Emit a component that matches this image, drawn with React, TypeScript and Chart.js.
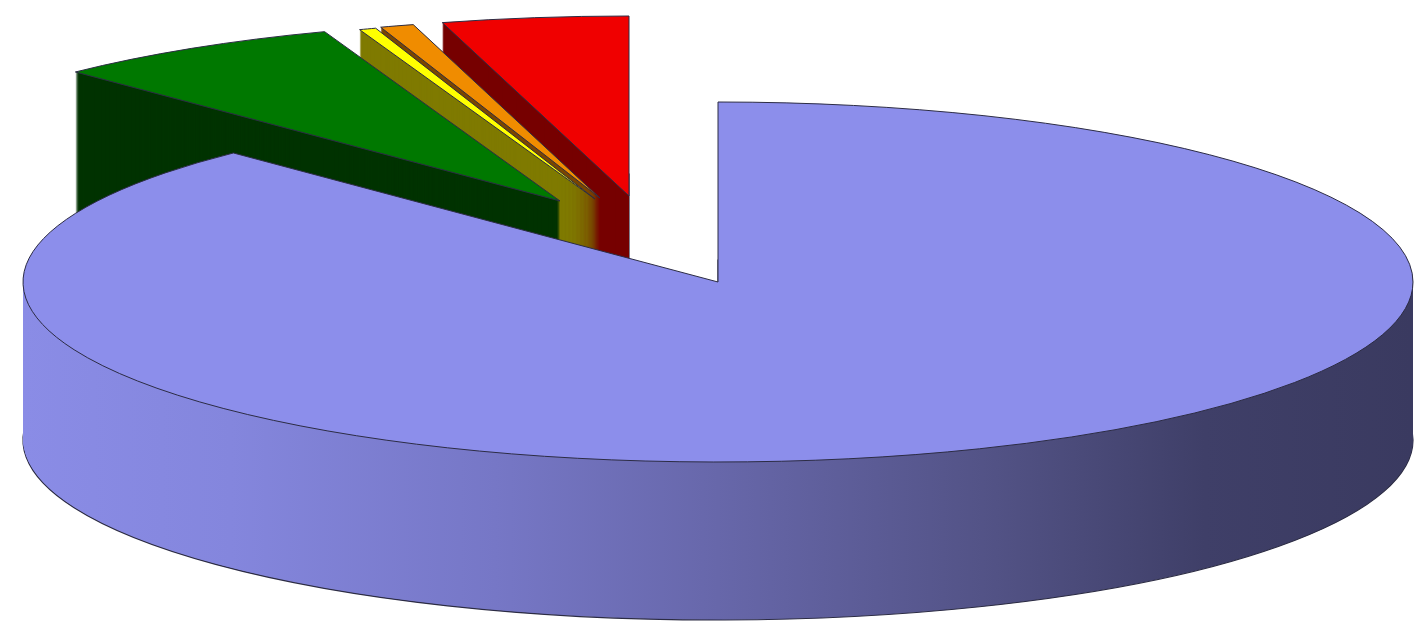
import React, { useEffect, useRef } from "react";
import { Chart, registerables } from "chart.js";

Chart.register(...registerables);

// ---- data ----
const categories = ["Category A", "Category B", "Category C", "Category D", "Category E"];
const shares = [87.72, 6.78, 0.39, 0.78, 4.33];

// ---- styles ----
const topColors = ["#8C8EEB", "#007800", "#FFFF00", "#F08C00", "#F00000"];
const sideColors: (string | null)[] = [null, "#003300", "#7F7A00", "#7A4600", "#760000"];
const blueSideStops: [number, string][] = [
  [0, "#8A8CE6"],
  [0.15, "#8486DD"],
  [0.34, "#7677C6"],
  [0.5, "#6767AA"],
  [0.7, "#525285"],
  [0.85, "#3F3F68"],
  [1, "#3A3A60"],
];
// screen-space explosion of each slice (px)
const explodeShift: [number, number][] = [
  [0, 0],
  [-158, -81],
  [-123, -83],
  [-118, -84],
  [-89, -86],
];
const OUTLINE = "#2C2C44";

const W = 1415;
const H = 622;
const CX = 718;
const CY = 282;
const RX = 695;
const RY = 180;
const DEPTH = 158;

function drawWith(el: any, ctx: CanvasRenderingContext2D, over: Record<string, any>) {
  const base = el.options;
  const tmp = Object.create(base);
  for (const k of Object.keys(over)) {
    Object.defineProperty(tmp, k, { value: over[k], enumerable: true, writable: true, configurable: true });
  }
  el.options = tmp;
  try {
    el.draw(ctx);
  } finally {
    el.options = base;
  }
}

const pie3d = {
  id: "pie3d",
  beforeDatasetsDraw(chart: any) {
    const ctx: CanvasRenderingContext2D = chart.ctx;
    const meta = chart.getDatasetMeta(0);
    const arcs = meta.data as any[];
    ctx.save();
    const base = ctx.getTransform();
    const proto = Object.getPrototypeOf(ctx);
    const origStroke = proto.stroke;
    (ctx as any).stroke = function (...a: any[]) {
      this.save();
      this.setTransform(base);
      origStroke.apply(this, a);
      this.restore();
    };

    const key = (i: number) => {
      const el = arcs[i];
      const m = (el.startAngle + el.endAngle) / 2;
      return Math.sin(m) * RY + explodeShift[i][1];
    };
    const order = arcs.map((_, i) => i).sort((a, b) => key(a) - key(b));

    for (const i of order) {
      const el = arcs[i];
      const R = el.outerRadius;
      if (!R) continue;
      const sx = RX / R;
      const sy = RY / R;
      const [dx, dy] = explodeShift[i];
      const place = (d: number) => {
        ctx.setTransform(base);
        ctx.translate(CX + dx, CY + dy + d);
        ctx.scale(sx, sy);
        ctx.translate(-el.x, -el.y);
      };
      let side: any = sideColors[i];
      if (!side) {
        const g = ctx.createLinearGradient(el.x - R, 0, el.x + R, 0);
        for (const [o, c] of blueSideStops) g.addColorStop(o, c);
        side = g;
      }
      for (let d = DEPTH; d >= 1; d--) {
        place(d);
        drawWith(el, ctx, {
          backgroundColor: side,
          borderWidth: d === DEPTH ? 1.2 : 0,
          borderColor: OUTLINE,
        });
      }
      place(0);
      el.draw(ctx);
    }

    delete (ctx as any).stroke;
    ctx.restore();
    return false;
  },
};

export default function App() {
  const ref = useRef<HTMLCanvasElement | null>(null);
  useEffect(() => {
    document.body.style.margin = "0";
    const canvas = ref.current;
    if (!canvas) return;
    const chart = new Chart(canvas, {
      type: "pie",
      data: {
        labels: categories,
        datasets: [
          {
            data: shares,
            backgroundColor: topColors,
            borderColor: OUTLINE,
            borderWidth: 1,
            borderJoinStyle: "miter",
          } as any,
        ],
      },
      options: {
        responsive: false,
        animation: false,
        events: [],
        radius: RX,
        layout: { padding: 0 },
        plugins: {
          legend: { display: false },
          tooltip: { enabled: false },
        },
      } as any,
      plugins: [pie3d as any],
    });
    return () => chart.destroy();
  }, []);
  return (
    <div style={{ width: W, height: H, background: "#ffffff" }}>
      <canvas ref={ref} width={W} height={H} style={{ display: "block", width: W, height: H }} />
    </div>
  );
}
